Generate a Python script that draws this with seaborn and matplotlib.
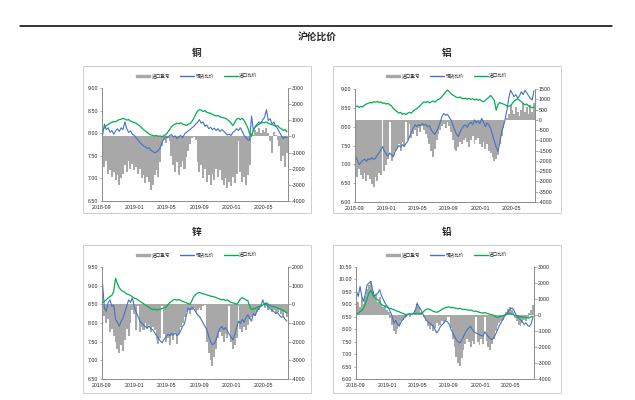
import pandas as pd
import matplotlib
matplotlib.use('Agg')
import matplotlib.pyplot as plt
import matplotlib.dates as mdates
from matplotlib.ticker import FuncFormatter
from matplotlib.patches import Rectangle, Patch
from matplotlib.lines import Line2D
import seaborn as sns


# weekly dates, 2018-09 .. 2020-07
dates = pd.date_range('2018-09-03', periods=100, freq='7D')

# 铜
cu_spread = [-1600, -1900, -1500, -2300, -2100, -2500, -2200, -2700, -2400, -3000,
             -2600, -2300, -1800, -2200, -1500, -2000, -1700, -2100, -1900, -2300,
             -2000, -2600, -2400, -2900, -2500, -2800, -3300, -3000, -2400, -2100,
             -2500, -1600, -600, -200, -400, -100, -300, -1200, -1800, -2200,
             -1600, -2400, -1900, -1500, -2000, -1300, -900, -500, -100, -50,
             -200, -1600, -2200, -1800, -2600, -2000, -2800, -2400, -3000, -2300,
             -2700, -2000, -2500, -2100, -2700, -3000, -2600, -3200, -2800, -3100,
             -2500, -2900, -2300, -300, -2200, -2800, -2500, -3000, -2400, -1800,
             200, 100, 400, 300, 500, 200, 400, 300, 500, 200,
             -300, -1000, 300, 100, -200, -600, -1500, -1200, -1900, -1000]
cu_spot = [7.95, 8.20, 8.08, 8.12, 8.02, 8.06, 7.98, 8.05, 8.10, 8.04,
           8.12, 8.08, 8.25, 8.10, 8.02, 8.05, 7.98, 7.95, 7.90, 7.85,
           7.80, 7.76, 7.72, 7.70, 7.66, 7.68, 7.62, 7.60, 7.56, 7.59,
           7.62, 7.68, 7.80, 7.88, 7.93, 7.90, 7.95, 7.97, 7.92, 7.94,
           7.88, 7.92, 7.95, 7.90, 7.98, 8.02, 8.05, 8.08, 8.12, 8.15,
           8.20, 8.24, 8.30, 8.22, 8.25, 8.15, 8.18, 8.10, 8.13, 8.08,
           8.11, 8.06, 8.10, 8.04, 8.08, 8.05, 8.00, 7.96, 7.98, 7.95,
           8.02, 8.05, 8.10, 8.06, 8.12, 8.04, 7.95, 7.90, 7.86, 7.84,
           8.38, 8.05, 8.15, 8.20, 8.25, 8.22, 8.30, 8.35, 8.52, 8.28,
           8.32, 8.20, 8.25, 8.15, 8.10, 8.02, 7.95, 7.88, 7.92, 7.90]
cu_import = [8.07, 8.12, 8.17, 8.19, 8.22, 8.24, 8.26, 8.25, 8.28, 8.30,
             8.31, 8.33, 8.31, 8.29, 8.30, 8.27, 8.25, 8.24, 8.22, 8.19,
             8.16, 8.12, 8.08, 8.05, 8.02, 7.98, 7.96, 7.95, 7.94, 7.95,
             7.93, 7.94, 7.92, 7.95, 7.97, 8.02, 8.08, 8.14, 8.18, 8.20,
             8.22, 8.21, 8.23, 8.20, 8.19, 8.17, 8.20, 8.21, 8.26, 8.33,
             8.42, 8.49, 8.52, 8.51, 8.48, 8.50, 8.46, 8.45, 8.44, 8.41,
             8.40, 8.38, 8.39, 8.36, 8.35, 8.34, 8.33, 8.30, 8.27, 8.22,
             8.17, 8.24, 8.31, 8.33, 8.30, 8.33, 8.28, 8.20, 8.12, 7.98,
             7.93, 8.08, 8.14, 8.17, 8.20, 8.22, 8.24, 8.23, 8.25, 8.22,
             8.20, 8.19, 8.18, 8.15, 8.17, 8.12, 8.10, 8.06, 8.08, 8.03]

# 铝
al_spread = [-2200, -2800, -2400, -2700, -2900, -2600, -3000, -2700, -2900, -3100,
             -3250, -2800, -3000, -2600, -2700, 0, -2500, -2200, -1900, -100,
             -2000, -1800, -1500, -1400, -1200, -1500, -1100, -1300, -100, -1000,
             -200, -900, -700, -500, -800, -400, -600, -300, -500, -700,
             -900, -1200, -1500, -1800, -1400, -1000, -700, -500, -300, -200,
             -400, -100, -300, -600, -1000, -1400, -1500, -1300, -1100, -1200,
             -1000, -900, -1100, -1300, -1000, -800, -1200, -1000, -900, -1200,
             -1300, -1100, -1400, -1200, -1500, -1600, -1800, -2000, -1900, -1700,
             -1200, -800, -400, 0, 100, 300, 700, 500, 300, 600,
             400, 200, 500, 800, 400, 600, 300, 700, 400, 800]
al_spot = [7.20, 7.12, 6.99, 7.05, 7.10, 7.14, 7.08, 7.15, 7.12, 7.18,
           7.13, 7.16, 7.24, 7.30, 7.38, 7.47, 7.35, 7.28, 7.22, 7.30,
           7.25, 7.20, 7.35, 7.42, 7.50, 7.46, 7.52, 7.48, 7.55, 7.62,
           7.74, 7.85, 7.96, 8.05, 8.00, 8.06, 8.02, 8.08, 8.04, 8.06,
           8.00, 8.03, 7.92, 7.85, 7.80, 7.88, 7.98, 8.12, 8.27, 8.35,
           8.30, 8.33, 8.25, 8.18, 8.05, 7.91, 7.80, 7.74, 7.85, 7.95,
           8.02, 8.05, 7.98, 8.08, 8.12, 8.05, 8.18, 8.10, 8.15, 8.08,
           8.22, 8.12, 8.00, 8.10, 8.05, 7.95, 7.78, 7.62, 7.47, 7.34,
           7.55, 7.85, 8.00, 8.20, 8.44, 8.75, 8.97, 8.88, 8.80, 8.85,
           8.75, 8.82, 8.93, 8.85, 8.97, 8.90, 8.82, 8.75, 8.71, 8.95]
al_import = [8.53, 8.55, 8.51, 8.54, 8.52, 8.57, 8.60, 8.62, 8.64, 8.63,
             8.66, 8.65, 8.67, 8.64, 8.66, 8.62, 8.63, 8.60, 8.62, 8.58,
             8.55, 8.48, 8.44, 8.40, 8.36, 8.38, 8.33, 8.35, 8.32, 8.36,
             8.38, 8.36, 8.42, 8.45, 8.48, 8.52, 8.56, 8.62, 8.66, 8.64,
             8.67, 8.63, 8.66, 8.68, 8.65, 8.70, 8.72, 8.75, 8.80, 8.86,
             8.92, 8.97, 8.93, 8.88, 8.84, 8.81, 8.78, 8.77, 8.79, 8.75,
             8.74, 8.76, 8.73, 8.75, 8.72, 8.74, 8.71, 8.73, 8.70, 8.72,
             8.68, 8.66, 8.70, 8.74, 8.78, 8.83, 8.76, 8.70, 8.44, 8.58,
             8.64, 8.62, 8.60, 8.58, 8.55, 8.54, 8.56, 8.62, 8.68, 8.71,
             8.74, 8.70, 8.66, 8.62, 8.58, 8.60, 8.55, 8.53, 8.50, 8.52]

# 锌
zn_spread = [-200, -600, -1000, -800, -1500, -1300, -1700, -2000, -2400, -2600,
             -2200, -2500, -1900, -1300, -1700, -1000, -300, -500, -1400, -100,
             -1500, -1200, -1400, -1000, -1300, -1100, -1500, -1200, -1400, -1900,
             -2100, -1800, -100, -1600, -2000, -1800, -2200, -1700, -1900, -1500,
             -2100, -1600, -1200, -1000, -700, -400, -300, -500, -300, -200,
             -400, -300, -200, -300, -100, -50, -2000, -2600, -3000, -3300,
             -2800, -2400, -1800, -1500, -1700, -2000, -1600, -1800, -100, -2000,
             -2400, -2200, -1800, -100, -1300, -1500, -1200, -1400, -1100, -800,
             -700, -500, -600, -400, -300, -100, 0, -200, -100, -300,
             -200, -400, -300, -500, -400, -300, -500, -600, -400, -700]
zn_spot = [9.07, 8.40, 8.31, 8.55, 8.62, 8.45, 8.48, 8.09, 8.02, 7.91,
           8.05, 8.13, 8.30, 8.45, 8.62, 8.55, 8.67, 8.45, 8.30, 8.18,
           8.05, 8.00, 7.95, 7.90, 7.87, 7.92, 7.84, 7.82, 7.74, 7.66,
           7.60, 7.52, 7.47, 7.56, 7.62, 7.70, 7.66, 7.72, 7.68, 7.74,
           7.66, 7.70, 7.80, 7.91, 7.98, 8.20, 8.40, 8.35, 8.42, 8.38,
           8.30, 8.22, 8.18, 8.09, 8.00, 7.91, 7.82, 7.64, 7.50, 7.42,
           7.45, 7.56, 7.73, 7.85, 7.91, 7.82, 7.88, 7.80, 7.70, 7.62,
           7.55, 7.70, 7.88, 8.05, 7.98, 8.10, 8.02, 8.15, 8.22, 8.12,
           8.05, 8.25, 8.20, 8.33, 8.40, 8.45, 8.62, 8.48, 8.52, 8.42,
           8.38, 8.35, 8.30, 8.26, 8.28, 8.20, 8.15, 8.18, 8.10, 8.05]
zn_import = [8.54, 8.58, 8.62, 8.67, 8.71, 8.74, 8.85, 9.20, 9.05, 8.94,
             8.88, 8.85, 8.82, 8.78, 8.76, 8.74, 8.70, 8.67, 8.65, 8.62,
             8.58, 8.55, 8.52, 8.48, 8.45, 8.42, 8.38, 8.36, 8.37, 8.35,
             8.36, 8.37, 8.39, 8.40, 8.42, 8.48, 8.54, 8.58, 8.62, 8.63,
             8.61, 8.63, 8.60, 8.58, 8.56, 8.54, 8.52, 8.50, 8.60, 8.71,
             8.76, 8.80, 8.82, 8.80, 8.78, 8.77, 8.75, 8.74, 8.72, 8.71,
             8.70, 8.68, 8.66, 8.64, 8.62, 8.63, 8.60, 8.62, 8.58, 8.55,
             8.54, 8.52, 8.50, 8.56, 8.64, 8.68, 8.65, 8.62, 8.60, 8.45,
             8.36, 8.38, 8.39, 8.42, 8.44, 8.45, 8.48, 8.52, 8.54, 8.50,
             8.46, 8.45, 8.44, 8.42, 8.40, 8.38, 8.36, 8.34, 8.30, 8.27]

# 铅
pb_spread = [400, 800, 500, 1100, 700, 1200, 1600, 1900, 2100, 1500,
             1000, 1300, 800, 1100, 700, 500, 600, 300, 200, -200,
             -600, -1000, -1200, -900, -700, -400, -300, -200, -100, 0,
             -100, 50, 0, 300, 700, 500, 200, 0, -100, -400,
             -700, -900, -600, -1000, -800, -500, -700, -600, -400, -500,
             -300, -100, -100, -800, -1500, -2000, -2600, -3000, -3200, -2700,
             -2200, -1800, -1500, -1700, -2000, -1600, -1800, -100, -1700, -1900,
             -1500, -1800, -100, -1600, -2000, -2200, -1800, -1500, -1000, -700,
             -500, -400, -300, -100, 200, 400, 500, 300, 200, -200,
             -400, -600, -700, -500, -300, -400, -200, 100, 300, 600]
pb_spot = [9.52, 9.32, 9.72, 9.30, 9.12, 9.45, 9.79, 9.86, 9.92, 9.60,
           9.32, 9.40, 9.45, 9.59, 9.35, 9.20, 9.05, 8.95, 8.85, 8.70,
           8.52, 8.25, 8.35, 8.20, 8.12, 8.30, 8.38, 8.50, 8.55, 8.59,
           8.62, 8.60, 8.65, 8.75, 9.05, 8.90, 8.80, 8.65, 8.50, 8.38,
           8.30, 8.25, 8.18, 8.12, 8.00, 7.85, 7.95, 8.10, 8.18, 8.25,
           8.35, 8.30, 8.20, 8.00, 7.85, 7.70, 7.58, 7.50, 7.45, 7.55,
           7.70, 7.85, 7.98, 8.05, 8.12, 7.98, 7.90, 7.85, 7.82, 7.78,
           7.75, 7.72, 7.90, 7.78, 7.70, 7.62, 7.58, 7.65, 7.80, 7.95,
           8.12, 8.25, 8.38, 8.52, 8.59, 8.70, 8.79, 8.85, 8.80, 8.65,
           8.50, 8.45, 8.38, 8.30, 8.20, 8.25, 8.15, 8.12, 8.22, 8.50]
pb_import = [8.58, 8.64, 8.71, 8.76, 8.85, 9.02, 9.24, 9.45, 9.56, 9.40,
             9.26, 9.22, 9.18, 9.10, 8.99, 8.95, 8.92, 8.89, 8.86, 8.83,
             8.81, 8.78, 8.75, 8.72, 8.70, 8.66, 8.64, 8.60, 8.59, 8.61,
             8.62, 8.60, 8.63, 8.62, 8.64, 8.62, 8.61, 8.66, 8.74, 8.79,
             8.82, 8.80, 8.76, 8.72, 8.70, 8.68, 8.71, 8.75, 8.80, 8.84,
             8.87, 8.89, 8.90, 8.86, 8.88, 8.85, 8.84, 8.82, 8.84, 8.81,
             8.79, 8.80, 8.78, 8.76, 8.77, 8.74, 8.72, 8.73, 8.70, 8.68,
             8.66, 8.65, 8.67, 8.64, 8.62, 8.60, 8.58, 8.56, 8.51, 8.48,
             8.50, 8.52, 8.54, 8.57, 8.59, 8.62, 8.65, 8.61, 8.58, 8.56,
             8.54, 8.52, 8.50, 8.49, 8.48, 8.47, 8.45, 8.46, 8.50, 8.52]

xtick_dates = ['2018-09-01', '2019-01-01', '2019-05-01', '2019-09-01', '2020-01-01', '2020-05-01']
legend_names = ['进口盈亏', '现货比价', '进口比价']

GRAY = '#A8A8A8'
BLUE = '#4472C4'
GREEN = '#00B050'
AXC = '#8C8C8C'

sns.set_style('white')
plt.rcParams['font.family'] = ['Liberation Sans', 'Noto Sans CJK SC']
plt.rcParams['axes.unicode_minus'] = False

W, H = 635, 400
fig = plt.figure(figsize=(W / 100, H / 100), dpi=100)


def px_rect(x0, y0, x1, y1):
    # pixel box -> figure fraction [left, bottom, width, height]
    return [x0 / W, 1 - y1 / H, (x1 - x0) / W, (y1 - y0) / H]


# (title, spread, spot, import, left lim/step, right lim/step, axes px box, panel px box)
panels = [
    ('铜', cu_spread, cu_spot, cu_import, (6.5, 9.0, 0.5), (-4000, 3000, 1000),
     (102, 88, 288, 201), (83, 66, 311, 213)),
    ('铝', al_spread, al_spot, al_import, (6.0, 9.0, 0.5), (-4000, 1500, 500),
     (355, 89, 535, 202), (333, 66, 561, 213)),
    ('锌', zn_spread, zn_spot, zn_import, (6.5, 9.5, 0.5), (-4000, 2000, 1000),
     (102, 267, 288, 379), (83, 245, 311, 393)),
    ('铅', pb_spread, pb_spot, pb_import, (6.0, 10.5, 0.5), (-4000, 3000, 1000),
     (356, 267, 534, 379), (333, 245, 561, 393)),
]

for title, spread, spot, imp, llim, rlim, abox, pbox in panels:
    df = pd.DataFrame({'date': dates, 'spread': spread, 'spot': spot, 'imp': imp})

    ax_bar = fig.add_axes(px_rect(*abox))
    ax_bar.bar(df['date'], df['spread'], width=7.6, color=GRAY, linewidth=0)
    ax_line = ax_bar.twinx()
    sns.lineplot(data=df, x='date', y='spot', ax=ax_line, color=BLUE, lw=0.8)
    sns.lineplot(data=df, x='date', y='imp', ax=ax_line, color=GREEN, lw=0.9)

    ax_bar.yaxis.tick_right()
    ax_line.yaxis.tick_left()

    ax_bar.set_ylim(rlim[0], rlim[1])
    ax_bar.set_yticks(range(rlim[0], rlim[1] + 1, rlim[2]))
    ax_bar.yaxis.set_major_formatter(FuncFormatter(lambda v, p: f'{v:.0f}'))
    nl = int(round((llim[1] - llim[0]) / llim[2]))
    ax_line.set_ylim(llim[0], llim[1])
    ax_line.set_yticks([llim[0] + k * llim[2] for k in range(nl + 1)])
    ax_line.yaxis.set_major_formatter(FuncFormatter(lambda v, p: f'{v:.2f}'))

    ax_bar.set_xticks(pd.to_datetime(xtick_dates))
    ax_bar.xaxis.set_major_formatter(mdates.DateFormatter('%Y-%m'))
    ax_bar.set_xlim(pd.Timestamp('2018-09-01'), pd.Timestamp('2020-07-31'))

    for a in (ax_bar, ax_line):
        a.set_xlabel('')
        a.set_ylabel('')
        a.spines['top'].set_visible(False)
        for s in ('left', 'right', 'bottom'):
            a.spines[s].set_color(AXC)
            a.spines[s].set_linewidth(0.6)
        a.tick_params(labelsize=3.8, length=1.8, width=0.5, color=AXC, pad=1)

    # panel frame and titles
    fig.add_artist(Rectangle((pbox[0] / W, 1 - pbox[3] / H), (pbox[2] - pbox[0]) / W,
                             (pbox[3] - pbox[1]) / H, transform=fig.transFigure,
                             fill=False, ec='#C8C8C8', lw=0.6))
    cx = (pbox[0] + pbox[2]) / 2
    fig.text(cx / W, 1 - (pbox[1] - 13) / H, title, ha='center', va='center',
             fontsize=7, fontweight='bold', family=['Noto Sans CJK SC'])
    handles = [Patch(color=GRAY), Line2D([], [], color=BLUE, lw=1),
               Line2D([], [], color=GREEN, lw=1)]
    fig.legend(handles, legend_names, loc='center', ncol=3, frameon=False,
               bbox_to_anchor=(cx / W, 1 - (pbox[1] + 10) / H), fontsize=3.3,
               handlelength=3.0, handleheight=0.45, columnspacing=2.2, handletextpad=0.3)

fig.add_artist(Line2D([20 / W, 612 / W], [1 - 26 / H] * 2, transform=fig.transFigure,
                      color='black', lw=1.1))
fig.text(317 / W, 1 - 37 / H, '沪伦比价', ha='center', va='center', fontsize=7,
         fontweight='bold', family=['Noto Sans CJK SC'])

fig.savefig('out.png', dpi=100)
